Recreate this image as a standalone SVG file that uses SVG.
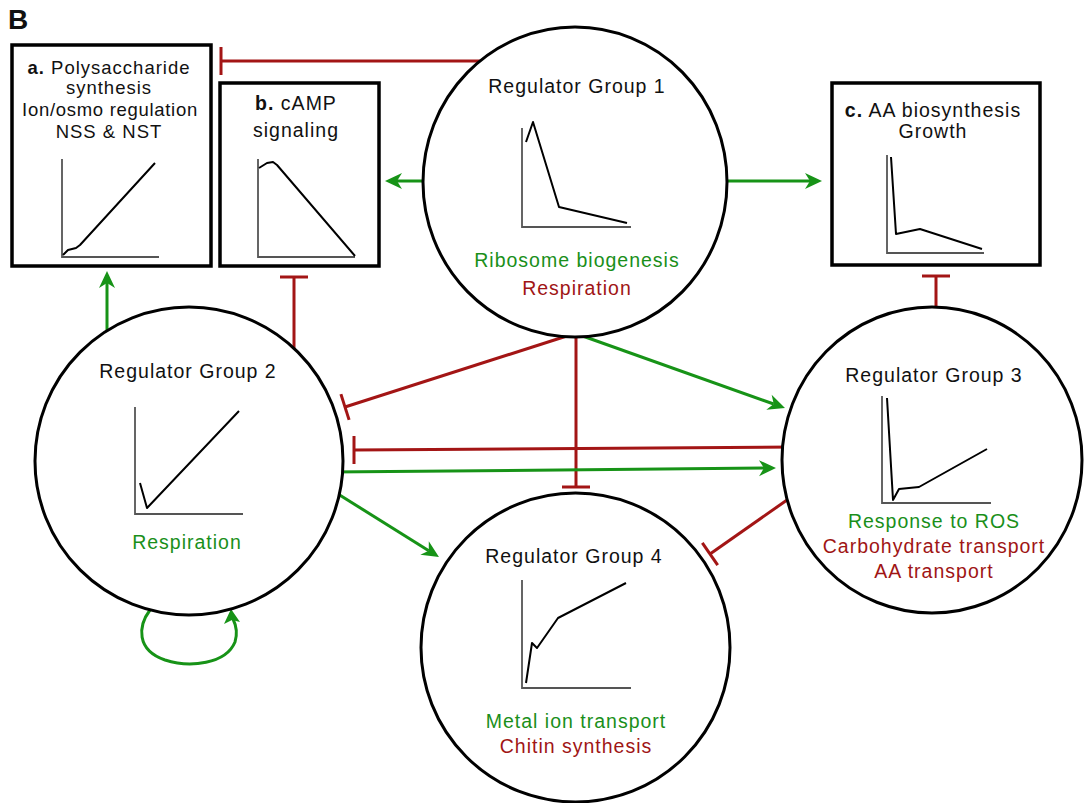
<svg xmlns="http://www.w3.org/2000/svg" width="1084" height="803" viewBox="0 0 1084 803">
<defs>
<style>
text{font-family:"Liberation Sans",Arial,sans-serif;font-size:19.5px;letter-spacing:1px;text-anchor:middle;fill:#111}
.bt{font-size:18.5px}
.g{fill:#1a8f1a}
.r{fill:#a01515}
.box{fill:#fff;stroke:#000;stroke-width:3.5}
.circ{fill:#fff;stroke:#000;stroke-width:3}
.axis{fill:none;stroke:#555;stroke-width:1.8}
.curve{fill:none;stroke:#000;stroke-width:2;stroke-linejoin:round}
.act{fill:none;stroke:#179317;stroke-width:3;marker-end:url(#arr)}
.inh{fill:none;stroke:#a31515;stroke-width:3}
</style>
<marker id="arr" markerUnits="userSpaceOnUse" markerWidth="20" markerHeight="18" viewBox="0 -9 18 18" refX="5" refY="0" orient="auto">
<path d="M17,0 L0,-8 L5,0 L0,8 Z" fill="#179317"/>
</marker>
</defs>
<text x="8" y="29" style="font-size:28px;font-weight:bold;text-anchor:start;letter-spacing:0">B</text>
<g id="connectors">
<line class="inh" x1="500" y1="61" x2="221" y2="61"/><line class="inh" x1="221" y1="47" x2="221" y2="75"/>
<line class="act" x1="440" y1="181" x2="397" y2="181"/>
<line class="act" x1="710" y1="181" x2="810" y2="181"/>
<line class="inh" x1="936" y1="320" x2="936" y2="276"/><line class="inh" x1="922" y1="276" x2="950" y2="276"/>
<line class="act" x1="107" y1="345" x2="107" y2="283"/>
<line class="inh" x1="294" y1="360" x2="294" y2="277"/><line class="inh" x1="280" y1="277" x2="308" y2="277"/>
<line class="inh" x1="573" y1="334" x2="345" y2="407"/><line class="inh" x1="340.9" y1="394.1" x2="349.1" y2="419.9"/>
<line class="inh" x1="576" y1="330" x2="576" y2="487"/><line class="inh" x1="562" y1="487" x2="590" y2="487"/>
<line class="act" x1="577" y1="334" x2="773.7" y2="404"/>
<line class="inh" x1="795" y1="447" x2="354" y2="450"/><line class="inh" x1="354" y1="436" x2="354" y2="464"/>
<line class="act" x1="330" y1="472" x2="764" y2="468.1"/>
<line class="act" x1="330" y1="489" x2="428.8" y2="550.7"/>
<line class="inh" x1="797" y1="493" x2="710" y2="554"/><line class="inh" x1="702.3" y1="542.9" x2="717.7" y2="565.1"/>
<path d="M150,610 C138,626 136,650 165,660 C190,668 226,664 235,642 C238,632 236,625 233,619" fill="none" stroke="#179317" stroke-width="3"/>
<polygon points="231,609 224,624 232,620 240,622" fill="#179317"/>
</g>
<g id="box-a">
<rect class="box" x="12" y="45" width="199" height="221"/>
<text class="bt" x="109" y="74"><tspan font-weight="bold">a.</tspan> Polysaccharide</text>
<text class="bt" x="109" y="94">synthesis</text>
<text class="bt" x="110" y="116" style="letter-spacing:0.7px">Ion/osmo regulation</text>
<text class="bt" x="109" y="138">NSS &amp; NST</text>
<polyline class="axis" points="62,159 62,257 159,257"/>
<polyline class="curve" points="63,255 68,250 76,248 80,245 155,163"/>
</g>
<g id="box-b">
<rect class="box" x="220" y="83" width="159" height="183"/>
<text x="296" y="110"><tspan font-weight="bold">b.</tspan> cAMP</text>
<text x="296" y="137">signaling</text>
<polyline class="axis" points="258,159 258,257 355,257"/>
<polyline class="curve" points="259,168 267,163 273,162 277,165 355,256"/>
</g>
<g id="box-c">
<rect class="box" x="832" y="83" width="208" height="182"/>
<text x="933" y="117"><tspan font-weight="bold">c.</tspan> AA biosynthesis</text>
<text x="933" y="138">Growth</text>
<polyline class="axis" points="887,155 887,253 984,253"/>
<polyline class="curve" points="891,157 896,234 920,229 982,249"/>
</g>
<g id="group-1">
<ellipse class="circ" cx="575" cy="182" rx="152" ry="155"/>
<text x="577" y="93">Regulator Group 1</text>
<polyline class="axis" points="522,128 522,227 631,227"/>
<polyline class="curve" points="526,142 533,122 559,207 627,223"/>
<text class="g" x="577" y="267">Ribosome biogenesis</text>
<text class="r" x="577" y="295">Respiration</text>
</g>
<g id="group-2">
<circle class="circ" cx="189" cy="461" r="154"/>
<text x="188" y="378">Regulator Group 2</text>
<polyline class="axis" points="135,407 135,514 243,514"/>
<polyline class="curve" points="140,483 147,508 239,411"/>
<text class="g" x="187" y="549">Respiration</text>
</g>
<g id="group-3">
<ellipse class="circ" cx="932" cy="460" rx="150" ry="153"/>
<text x="934" y="382">Regulator Group 3</text>
<polyline class="axis" points="882,396 882,503 991,503"/>
<polyline class="curve" points="887,398 893,500 899,489 919,487 987,449"/>
<text class="g" x="934" y="528">Response to ROS</text>
<text class="r" x="934" y="553">Carbohydrate transport</text>
<text class="r" x="934" y="578">AA transport</text>
</g>
<g id="group-4">
<circle class="circ" cx="575.5" cy="647.5" r="154.5"/>
<text x="574" y="563">Regulator Group 4</text>
<polyline class="axis" points="522,580 522,688 631,688"/>
<polyline class="curve" points="526,683 532,643 537,648 558,618 626,583"/>
<text class="g" x="576" y="728">Metal ion transport</text>
<text class="r" x="576" y="753">Chitin synthesis</text>
</g>
</svg>
